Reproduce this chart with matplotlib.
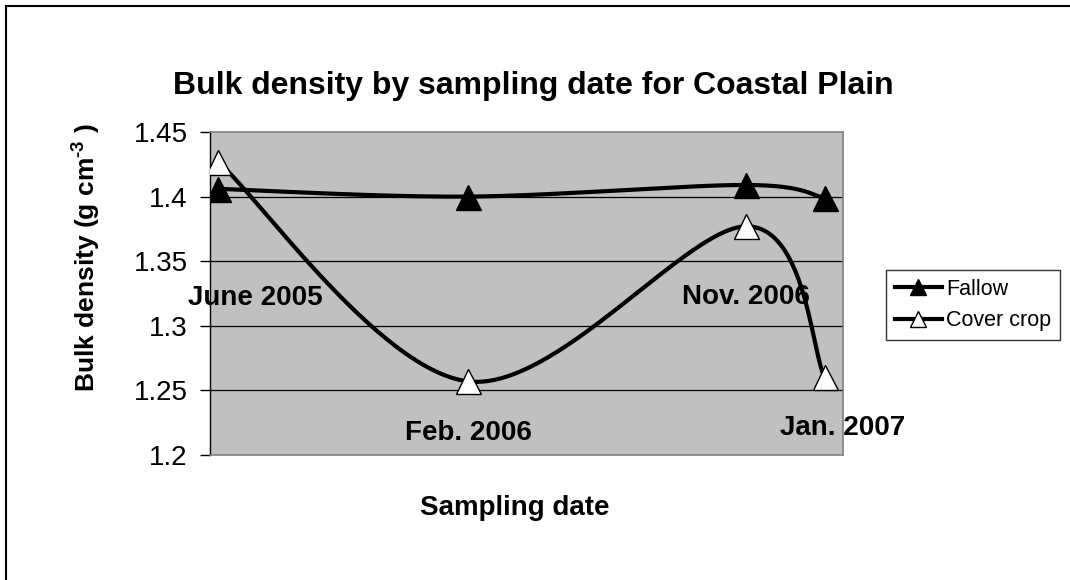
import numpy as np
import matplotlib
matplotlib.use("Agg")
import matplotlib.pyplot as plt
from matplotlib.lines import Line2D
from datetime import date

plt.rcParams['font.family'] = ['Liberation Sans', 'DejaVu Sans']
# bold superscript in the axis title
plt.rcParams['mathtext.fontset'] = 'custom'
plt.rcParams['mathtext.rm'] = 'Liberation Sans:bold'

# Sampling dates and bulk density (g cm-3)
sample_dates = [date(2005, 6, 15), date(2006, 2, 15), date(2006, 11, 15), date(2007, 1, 31)]
date_labels = ['June 2005', 'Feb. 2006', 'Nov. 2006', 'Jan. 2007']
fallow = [1.406, 1.400, 1.409, 1.399]
cover_crop = [1.427, 1.257, 1.377, 1.260]

days = np.array([(d - sample_dates[0]).days for d in sample_dates], dtype=float)


def smooth(x, y, n=60):
    # Bezier smoothing through every point (spreadsheet style)
    p = np.column_stack([x, y])
    p = np.vstack([p[0], p, p[-1]])
    out = []
    t = np.linspace(0, 1, n)[:, None]
    for i in range(1, len(p) - 2):
        p0, p1 = p[i], p[i + 1]
        c1 = p0 + (p[i + 1] - p[i - 1]) / 6
        c2 = p1 - (p[i + 2] - p[i]) / 6
        seg = ((1 - t) ** 3) * p0 + 3 * ((1 - t) ** 2) * t * c1 + 3 * (1 - t) * t ** 2 * c2 + t ** 3 * p1
        out.append(seg)
    seg = np.vstack(out)
    return seg[:, 0], seg[:, 1]


fig = plt.figure(figsize=(10.7, 5.8), dpi=100)
ax = fig.add_axes([210 / 1070, 1 - 455 / 580, 633 / 1070, 323 / 580])
ax.set_facecolor('#c0c0c0')

for yv in [1.25, 1.3, 1.35, 1.4]:
    ax.axhline(yv, color='black', lw=0.9, zorder=1)

fx, fy = smooth(days, fallow)
cx, cy = smooth(days, cover_crop)
ax.plot(fx, fy, color='black', lw=3, solid_capstyle='round', zorder=2)
ax.plot(cx, cy, color='black', lw=3, solid_capstyle='round', zorder=2)
ax.plot(days, fallow, ls='none', marker='^', ms=18, mfc='black', mec='black', zorder=3)
ax.plot(days, cover_crop, ls='none', marker='^', ms=18, mfc='white', mec='black', mew=1, zorder=4)

ax.set_xlim(-8, 613)
ax.set_ylim(1.2, 1.45)
ax.set_yticks([1.2, 1.25, 1.3, 1.35, 1.4, 1.45])
ax.set_yticklabels(['1.2', '1.25', '1.3', '1.35', '1.4', '1.45'])
ax.set_xticks([])
ax.tick_params(axis='y', direction='out', length=7, width=1, labelsize=20, pad=9)

for side in ['top', 'right', 'bottom']:
    ax.spines[side].set_color('#808080')
    ax.spines[side].set_linewidth(1.2)
ax.spines['left'].set_color('black')
ax.spines['left'].set_linewidth(1)

# date labels inside the plot
label_pos = [(36, 1.3215), (246, 1.217), (518, 1.3223), (613, 1.221)]
for (lx, ly), txt in zip(label_pos, date_labels):
    ax.text(lx, ly, txt, ha='center', va='center', fontsize=20, fontweight='bold',
            clip_on=False, zorder=5)

fig.text(533 / 1070, 1 - 86 / 580, 'Bulk density by sampling date for Coastal Plain',
         ha='center', va='center', fontsize=23, fontweight='bold')
fig.text(515 / 1070, 1 - 508 / 580, 'Sampling date', ha='center', va='center',
         fontsize=20, fontweight='bold')
fig.text(86 / 1070, 1 - 258 / 580, r'Bulk density (g cm$^{\text{-3}}$ )', ha='center', va='center',
         rotation=90, fontsize=19, fontweight='bold')

handles = [
    Line2D([], [], color='black', lw=3, marker='^', ms=12, mfc='black', mec='black'),
    Line2D([], [], color='black', lw=3, marker='^', ms=12, mfc='white', mec='black'),
]
leg = fig.legend(handles, ['Fallow', 'Cover crop'], loc='center', bbox_to_anchor=(973 / 1070, 1 - 305 / 580),
                 fontsize=15.5, frameon=True, fancybox=False, edgecolor='black', handlelength=2.2,
                 handletextpad=0.2, borderpad=0.4, labelspacing=0.5, borderaxespad=0)
leg.get_frame().set_linewidth(1)

# outer chart frame (top and left edges)
fig.add_artist(Line2D([6 / 1070, 6 / 1070], [0, 1 - 6 / 580], color='black', lw=1.5))
fig.add_artist(Line2D([6 / 1070, 1], [1 - 6 / 580, 1 - 6 / 580], color='black', lw=1.5))

fig.savefig('out.png', dpi=100)
